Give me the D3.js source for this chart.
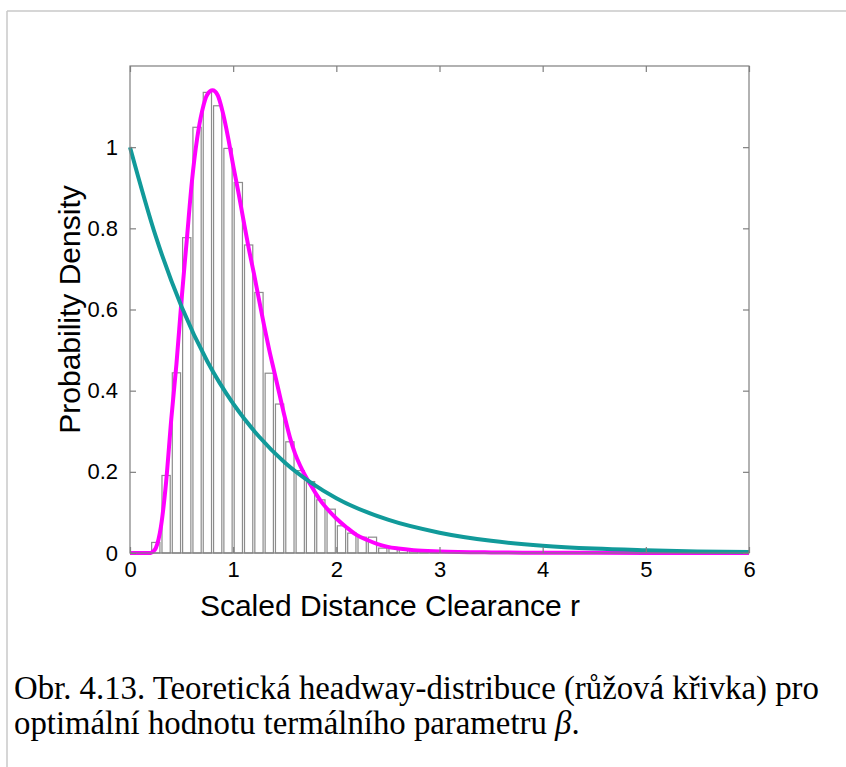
<!DOCTYPE html>
<html>
<head>
<meta charset="utf-8">
<script src="https://cdn.jsdelivr.net/npm/d3@7/dist/d3.min.js"></script>
<style>
  html, body { margin: 0; padding: 0; background: #fff; }
  svg { display: block; }
</style>
</head>
<body>
<script>
// Histogram of scaled distance clearances (bin left edges, width 0.1) and heights
const binLeft = [0.2, 0.3, 0.4, 0.5, 0.6, 0.7, 0.8, 0.9, 1.0, 1.1,
                 1.2, 1.3, 1.4, 1.5, 1.6, 1.7, 1.8, 1.9, 2.0, 2.1,
                 2.2, 2.3, 2.4, 2.5, 2.6, 2.7, 2.8, 2.9];
const binHeight = [0.026, 0.191, 0.444, 0.777, 1.049, 1.135, 1.102, 0.997, 0.913, 0.759,
                   0.642, 0.443, 0.367, 0.274, 0.203, 0.176, 0.131, 0.108, 0.067, 0.049,
                   0.039, 0.039, 0.012, 0.011, 0.009, 0.007, 0.005, 0.004];
const binSize = 0.1;

// Theoretical headway distribution (pink curve)
const pinkR = [0, 0.1, 0.2, 0.22, 0.25, 0.3, 0.35, 0.4, 0.45, 0.5, 0.55, 0.6, 0.65, 0.7, 0.75,
               0.8, 0.85, 0.9, 0.95, 1.0, 1.05, 1.1, 1.15, 1.2, 1.25, 1.3, 1.35, 1.4, 1.45,
               1.5, 1.55, 1.6, 1.65, 1.7, 1.75, 1.8, 1.85, 1.9, 2.0, 2.1, 2.2, 2.3, 2.4,
               2.5, 2.6, 2.75, 3.0, 3.5, 4.0, 5.0, 6.0];
const pinkP = [0, 0, 0, 0.003, 0.012, 0.065, 0.175, 0.33, 0.465, 0.625, 0.77, 0.915, 1.02, 1.09, 1.13,
               1.14, 1.128, 1.085, 1.025, 0.955, 0.89, 0.82, 0.752, 0.69, 0.625, 0.56, 0.5, 0.445, 0.39,
               0.335, 0.285, 0.245, 0.215, 0.19, 0.168, 0.147, 0.128, 0.112, 0.085, 0.063, 0.044, 0.032, 0.022,
               0.015, 0.011, 0.007, 0.004, 0.0015, 0.0007, 0.0002, 0];

// Poisson reference (teal curve)
const tealR = [0, 0.25, 0.5, 0.75, 1.0, 1.25, 1.5, 1.75, 2.0, 2.5, 3.0, 3.5, 4.0, 4.5, 5.0, 5.5, 6.0];
const tealP = [1.0, 0.78, 0.607, 0.472, 0.368, 0.287, 0.223, 0.174, 0.135, 0.082, 0.05, 0.03, 0.018, 0.011, 0.007, 0.004, 0.0025];

// Axis ticks
const xTicks = [0, 1, 2, 3, 4, 5, 6];
const xTickLabels = ["0", "1", "2", "3", "4", "5", "6"];
const yTicks = [0, 0.2, 0.4, 0.6, 0.8, 1];
const yTickLabels = ["0", "0.2", "0.4", "0.6", "0.8", "1"];

const W = 846, H = 767;
const plot = { left: 130, top: 66, right: 749, bottom: 553 };

const svg = d3.select("body").append("svg")
  .attr("width", W).attr("height", H);

// page frame lines
svg.append("line").attr("x1", 7).attr("y1", 11).attr("x2", W).attr("y2", 11)
  .attr("stroke", "#c9c9c9").attr("stroke-width", 1.5);
svg.append("line").attr("x1", 7).attr("y1", 11).attr("x2", 7).attr("y2", H)
  .attr("stroke", "#c9c9c9").attr("stroke-width", 1.5);

const x = d3.scaleLinear().domain([0, 6]).range([plot.left, plot.right]);
const y = d3.scaleLinear().domain([0, 1.2]).range([plot.bottom, plot.top]);

const g = svg.append("g");

// histogram bars
const bw = x(binSize) - x(0);
g.append("g").selectAll("rect")
  .data(binLeft.map((b, i) => ({ b, h: binHeight[i] })))
  .join("rect")
  .attr("x", d => x(d.b) + bw * 0.1)
  .attr("width", bw * 0.8)
  .attr("y", d => y(d.h))
  .attr("height", d => y(0) - y(d.h))
  .attr("fill", "#fff")
  .attr("stroke", "#8c8c8c")
  .attr("stroke-width", 1.2);

const line = d3.line()
  .x(d => x(d[0]))
  .y(d => y(d[1]))
  .curve(d3.curveMonotoneX);

g.append("path")
  .datum(pinkR.map((r, i) => [r, pinkP[i]]))
  .attr("d", line)
  .attr("fill", "none")
  .attr("stroke", "#ff00ff")
  .attr("stroke-width", 4)
  .attr("stroke-linejoin", "round");

g.append("path")
  .datum(tealR.map((r, i) => [r, tealP[i]]))
  .attr("d", line)
  .attr("fill", "none")
  .attr("stroke", "#119a9a")
  .attr("stroke-width", 4)
  .attr("stroke-linejoin", "round");

// axes box with inward ticks
const axisColor = "#7f7f7f";
const tickFont = "Liberation Sans, Arial, sans-serif";

const xAxis = svg.append("g").attr("transform", `translate(0,${plot.bottom})`)
  .call(d3.axisBottom(x).tickValues(xTicks).tickFormat((d, i) => xTickLabels[i])
    .tickSizeInner(-6).tickSizeOuter(0).tickPadding(12));
const xAxisTop = svg.append("g").attr("transform", `translate(0,${plot.top})`)
  .call(d3.axisTop(x).tickValues(xTicks).tickFormat("")
    .tickSizeInner(-6).tickSizeOuter(0));
const yAxis = svg.append("g").attr("transform", `translate(${plot.left},0)`)
  .call(d3.axisLeft(y).tickValues(yTicks).tickFormat((d, i) => yTickLabels[i])
    .tickSizeInner(-6).tickSizeOuter(0).tickPadding(12));
const yAxisRight = svg.append("g").attr("transform", `translate(${plot.right},0)`)
  .call(d3.axisRight(y).tickValues(yTicks).tickFormat("")
    .tickSizeInner(-6).tickSizeOuter(0));

[xAxis, xAxisTop, yAxis, yAxisRight].forEach(a => {
  a.select(".domain").remove();
  a.selectAll(".tick line").attr("stroke", axisColor).attr("stroke-width", 1.2);
  a.selectAll(".tick text")
    .attr("fill", "#000")
    .style("font-family", tickFont)
    .style("font-size", "22px");
});
xAxis.selectAll(".tick text").attr("dy", "0.71em").attr("y", 8);

svg.append("rect")
  .attr("x", plot.left).attr("y", plot.top)
  .attr("width", plot.right - plot.left).attr("height", plot.bottom - plot.top)
  .attr("fill", "none").attr("stroke", axisColor).attr("stroke-width", 1.2);

// axis titles
svg.append("text")
  .attr("x", 390).attr("y", 616)
  .attr("text-anchor", "middle")
  .style("font-family", tickFont).style("font-size", "30px")
  .text("Scaled Distance Clearance r");

svg.append("text")
  .attr("transform", `translate(80,${(plot.top + plot.bottom) / 2}) rotate(-90)`)
  .attr("text-anchor", "middle")
  .style("font-family", tickFont).style("font-size", "30px")
  .text("Probability Density");

// caption
const cap = svg.append("text")
  .style("font-family", "Liberation Serif, 'Times New Roman', serif")
  .style("font-size", "32.8px")
  .attr("fill", "#000");
cap.append("tspan").attr("x", 14).attr("y", 699)
  .text("Obr. 4.13. Teoretická headway-distribuce (růžová křivka) pro");
const l2 = cap.append("tspan").attr("x", 14).attr("y", 734)
  .text("optimální hodnotu termálního parametru ");
l2.append("tspan").style("font-style", "italic").text("β");
l2.append("tspan").text(".");
</script>
</body>
</html>
